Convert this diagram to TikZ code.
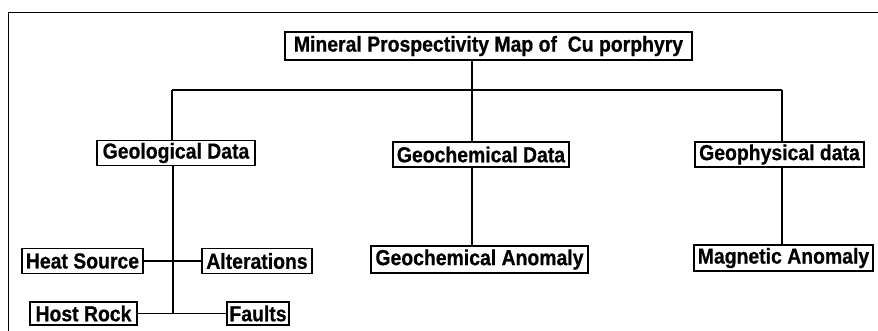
\documentclass[tikz,border=0pt]{standalone}
\usepackage{fontspec}
\setmainfont{Liberation Sans}
\newfontfamily\heavyfont{Liberation Sans Bold}[FakeBold=0.7]
\newcommand\vstr[1]{\scalebox{1}[1.12]{#1}}
\begin{document}
\begin{tikzpicture}[x=1pt,y=-1pt,
  bx/.style={draw,line width=1.8pt,inner sep=0pt,align=center,
    font=\heavyfont\fontsize{19.4}{20}\selectfont},
  ln/.style={line width=1.7pt}]
\useasboundingbox (0,0) rectangle (878,331);
\draw[line width=0.9pt] (8,331) -- (8,12) -- (878,12);
\node[bx,minimum width=407pt,minimum height=28pt] (title) at (488.5,46) {\vstr{Mineral Prospectivity Map of\ \ Cu porphyry}};
\node[bx,minimum width=158pt,minimum height=25pt] (geol) at (176,153) {\vstr{Geological Data}};
\node[bx,minimum width=176pt,minimum height=25pt] (gchem) at (481,154.5) {\vstr{Geochemical Data}};
\node[bx,minimum width=169pt,minimum height=25pt] (gphys) at (779.5,154.5) {\vstr{Geophysical data}};
\node[bx,minimum width=217pt,minimum height=27pt] (gchemA) at (479.5,259.5) {\vstr{Geochemical Anomaly}};
\node[bx,minimum width=179pt,minimum height=26pt] (mag) at (783.5,258) {\vstr{Magnetic Anomaly}};
\node[bx,minimum width=121pt,minimum height=25pt] (heat) at (82.5,261) {\vstr{Heat Source}};
\node[bx,minimum width=110pt,minimum height=25pt] (alt) at (257,261) {\vstr{Alterations}};
\node[bx,minimum width=107pt,minimum height=23pt] (host) at (83.5,313.5) {\vstr{Host Rock}};
\node[bx,minimum width=62pt,minimum height=23pt] (faults) at (258,313.5) {\vstr{Faults}};
\coordinate (hl) at (172,90);
\coordinate (hm) at (472,90);
\coordinate (hr) at (782,90);
\coordinate (gb) at (173,313.5);
\draw[ln] (hl) -- (hr);
\draw[ln] (title.south -| hm) -- (hm);
\draw[ln] (hl) -- (geol.north -| hl);
\draw[ln] (hm) -- (gchem.north -| hm);
\draw[ln] (hr) -- (gphys.north -| hr);
\draw[ln] (gchem.south -| hm) -- (gchemA.north -| hm);
\draw[ln] (gphys.south -| hr) -- (mag.north -| hr);
\draw[ln] (geol.south -| gb) -- (gb);
\draw[ln] (heat.east) -- (alt.west);
\draw[ln] (host.east) -- (faults.west);
\end{tikzpicture}
\end{document}
